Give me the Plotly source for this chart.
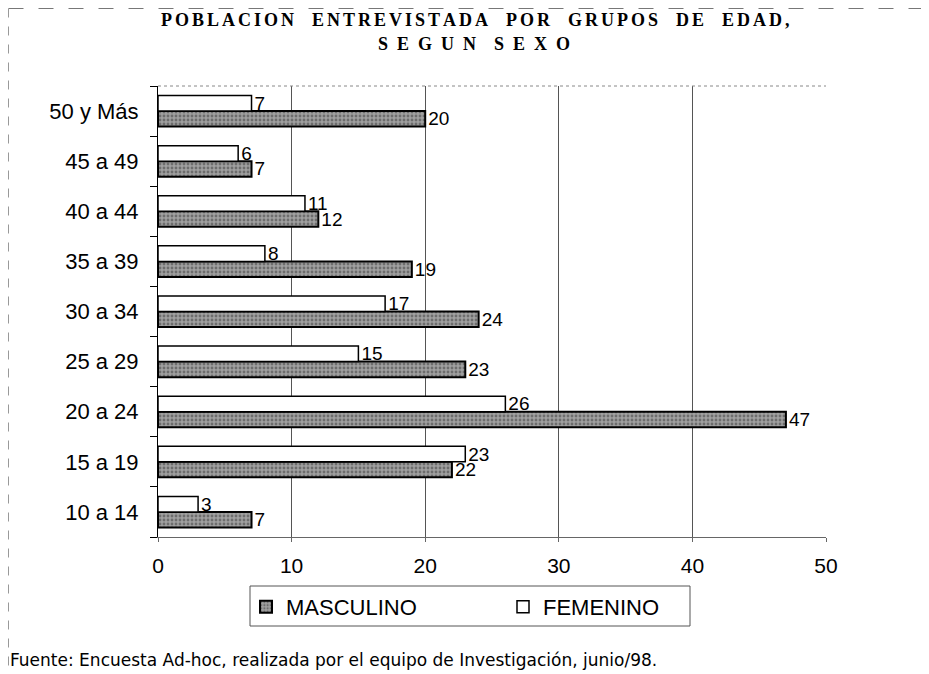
import plotly.graph_objects as go

categorias = ["10 a 14", "15 a 19", "20 a 24", "25 a 29", "30 a 34",
              "35 a 39", "40 a 44", "45 a 49", "50 y Más"]
masculino = [7, 22, 47, 23, 24, 19, 12, 7, 20]
femenino = [3, 23, 26, 15, 17, 8, 11, 6, 7]
x_ticks = [0, 10, 20, 30, 40, 50]

def spaced(s, gap="\u2006", wgap="\u2003"):
    return wgap.join(gap.join(list(w)) for w in s.split(" "))

title_line1 = spaced("POBLACION ENTREVISTADA POR GRUPOS DE EDAD,")
title_line2 = spaced("SEGUN SEXO", gap="\u2002", wgap="\u2003")

W, H = 921, 666
L, T, PW, PH = 150, 78, 668, 451
R = W - L - PW
B = H - T - PH

def px(x):
    return (x - L) / PW

def py(y):
    return (T + PH - y) / PH

SANS = "Liberation Sans, Arial, sans-serif"
SERIF = "Liberation Serif, Times New Roman, serif"

fig = go.Figure()
fig.add_trace(go.Bar(
    y=categorias, x=masculino, orientation="h", name="MASCULINO",
    marker=dict(color="#a0a0a0", line=dict(color="black", width=2),
                pattern=dict(shape=".", fgcolor="#3a3a3a", size=4, solidity=0.4)),
    text=masculino, textposition="outside", cliponaxis=False, constraintext="none",
    textfont=dict(family=SANS, size=19, color="black"),
))
fig.add_trace(go.Bar(
    y=categorias, x=femenino, orientation="h", name="FEMENINO",
    marker=dict(color="white", line=dict(color="black", width=1.5)),
    text=femenino, textposition="outside", cliponaxis=False, constraintext="none",
    textfont=dict(family=SANS, size=19, color="black"),
))

fig.update_layout(
    width=W, height=H,
    margin=dict(l=L, r=R, t=T, b=B, autoexpand=False),
    paper_bgcolor="white", plot_bgcolor="white",
    barmode="group", bargap=0.38, bargroupgap=0,
    font=dict(family=SANS, color="black"),
    showlegend=True,
    legend=dict(orientation="h", x=px(238), xanchor="left", y=py(578), yanchor="top",
                borderwidth=0, bgcolor="rgba(0,0,0,0)",
                font=dict(size=22, family=SANS),
                itemwidth=30, traceorder="normal", entrywidth=212),
    xaxis=dict(range=[0, 50], tickvals=x_ticks, showgrid=True, gridcolor="#555555",
               gridwidth=1, zeroline=False, showline=True, linecolor="#666666", linewidth=1,
               ticks="outside", ticklen=4, tickcolor="#666666",
               ticklabelstandoff=6, automargin=False,
               tickfont=dict(size=21, family=SANS)),
    yaxis=dict(categoryorder="array", categoryarray=categorias,
               showline=True, linecolor="black", linewidth=1,
               ticks="outside", ticklen=7, tickcolor="black", tickson="boundaries",
               showgrid=False, ticklabelstandoff=14, automargin=False,
               tickfont=dict(size=22, family=SANS)),
    shapes=[
        dict(type="line", xref="paper", yref="paper", x0=0, x1=1, y0=1, y1=1,
             line=dict(color="#888888", width=1, dash="dot")),
        dict(type="line", xref="paper", yref="paper",
             x0=px(0.5), x1=px(W), y0=py(0.5), y1=py(0.5),
             line=dict(color="#777777", width=1, dash="longdash")),
        dict(type="line", xref="paper", yref="paper",
             x0=px(0.5), x1=px(0.5), y0=py(0.5), y1=py(H),
             line=dict(color="#999999", width=1, dash="dash")),
        dict(type="rect", xref="paper", yref="paper",
             x0=px(242), x1=px(682), y0=py(578), y1=py(618),
             line=dict(color="#555555", width=1), fillcolor="white", layer="below"),
    ],
    annotations=[
        dict(text="<b>" + title_line1 + "</b>",
             xref="paper", yref="paper", x=px(467), y=py(12),
             xanchor="center", yanchor="middle", showarrow=False,
             font=dict(family=SERIF, size=18, color="black")),
        dict(text="<b>" + title_line2 + "</b>",
             xref="paper", yref="paper", x=px(466), y=py(36),
             xanchor="center", yanchor="middle", showarrow=False,
             font=dict(family=SERIF, size=18, color="black")),
        dict(text="Fuente: Encuesta Ad-hoc, realizada por el equipo de Investigación, junio/98.",
             xref="paper", yref="paper", x=px(0), y=py(652),
             xanchor="left", yanchor="middle", showarrow=False,
             font=dict(family="DejaVu Sans, sans-serif", size=17, color="black")),
    ],
)

fig.write_html("out.html")
